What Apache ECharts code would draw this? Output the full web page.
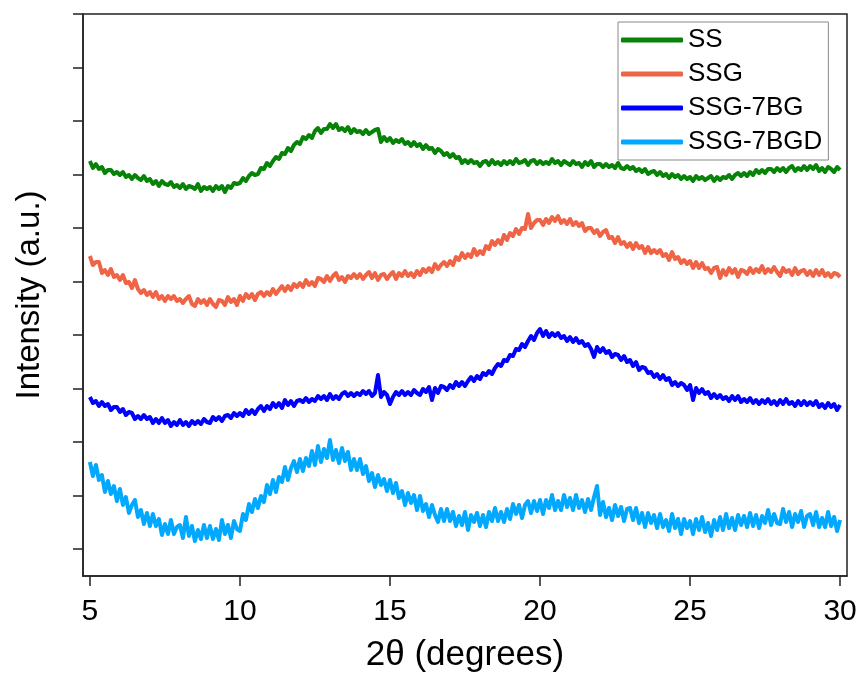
<!DOCTYPE html>
<html><head><meta charset="utf-8">
<script src="https://cdn.jsdelivr.net/npm/echarts@6/dist/echarts.min.js"></script>
<style>html,body{margin:0;padding:0;background:#fff}#c{width:860px;height:677px}</style>
</head><body><div id="c"></div>
<script>
// XRD patterns, 2θ from 5 to 30 deg, sampled every 0.1 deg (offset intensities, a.u.)
const seriesNames = ['SS', 'SSG', 'SSG-7BG', 'SSG-7BGD'];
const angleStart = 5.0;
const angleStep = 0.1;
const xTickValues = [5, 10, 15, 20, 25, 30];
const yTickValues = [27, 80.5, 134, 187.5, 241, 294.5, 348, 401.5, 455, 508.5, 562];

const ss = [
415,408,412,407,409,403,406,406,402,404,
401,404,399,401,397,401,398,396,400,395,
397,392,395,390,395,392,391,394,389,391,
388,392,387,390,389,387,392,385,389,387,
389,385,390,387,390,384,390,388,393,392,
393,398,395,400,403,401,402,408,407,413,
410,415,419,417,423,422,428,425,431,434,
432,439,437,441,438,445,448,443,447,447,
452,448,452,446,448,445,449,443,447,444,
445,442,446,442,444,446,447,434,439,435,
438,433,436,434,437,432,434,430,434,430,
432,427,431,427,428,423,427,425,421,423,
419,422,418,419,413,416,413,416,413,414,
410,414,415,411,416,412,414,411,415,412,
415,412,417,413,414,416,411,415,416,412,
415,412,414,412,417,413,415,411,415,413,
411,415,412,413,409,414,411,415,409,412,
412,409,412,409,411,408,413,408,407,410,
407,409,405,407,404,407,402,404,405,401,
404,400,402,398,402,399,401,397,400,397,
399,395,400,397,399,396,398,400,395,399,
396,399,398,401,397,401,403,400,403,400,
404,401,406,403,406,403,407,407,404,408,
405,408,404,408,410,405,408,406,410,406,
410,407,411,405,408,404,409,407,404,409,
406];

const ssg = [
320,311,314,314,303,306,301,307,299,301,
296,301,293,294,288,296,287,283,286,281,
284,279,284,277,280,275,280,277,280,275,
277,273,277,280,272,270,277,273,276,271,
277,272,269,276,275,271,279,274,277,271,
280,275,282,278,282,276,282,284,280,284,
281,287,282,286,290,285,290,286,292,289,
293,289,296,291,294,290,298,297,294,300,
295,300,303,296,299,294,300,298,302,298,
302,297,301,304,298,303,296,301,302,297,
301,304,297,303,300,305,300,303,299,305,
301,307,304,308,304,312,307,311,314,310,
315,311,319,316,323,318,322,319,327,321,
325,322,330,327,335,331,336,332,341,336,
343,340,347,342,348,347,362,348,353,356,
356,351,357,353,359,355,360,353,356,352,
357,351,354,350,353,345,348,348,343,346,
340,344,346,338,339,333,339,332,334,329,
333,327,333,328,330,323,329,323,326,323,
326,320,322,316,324,317,319,313,316,312,
315,308,314,308,313,307,308,303,308,309,
298,306,301,308,303,307,299,306,305,302,
308,303,307,304,310,303,307,304,309,304,
300,308,304,306,301,308,302,305,306,301,
305,300,306,301,306,300,303,299,303,302,
299];

const ssg7bg = [
179,173,175,170,174,170,172,166,169,169,
164,167,161,164,163,157,160,157,161,157,
159,153,157,153,158,153,156,150,154,151,
156,151,154,150,155,152,155,152,157,154,
153,159,156,159,155,160,161,158,163,160,
163,160,166,162,166,162,167,170,165,170,
167,173,169,173,168,176,171,175,170,175,
176,174,178,174,177,175,180,177,180,176,
182,177,180,177,182,184,180,183,180,183,
181,185,182,185,180,183,201,179,184,181,
172,179,184,181,185,181,184,181,186,183,
181,187,184,189,176,188,183,190,189,186,
191,188,194,190,194,190,195,199,195,200,
197,203,201,205,202,208,212,210,216,215,
221,220,227,226,232,229,235,240,236,243,
247,240,245,239,243,240,243,238,240,235,
239,234,238,233,235,230,232,227,219,229,
224,228,223,225,219,222,221,216,220,214,
216,210,214,206,209,208,203,204,199,202,
197,201,196,198,191,194,190,193,191,186,
191,176,188,183,187,182,184,178,182,178,
181,177,179,175,180,176,180,174,177,174,
178,173,176,172,176,173,177,172,175,171,
176,172,177,172,174,170,175,171,175,171,
174,171,175,169,172,168,173,169,172,166,
171];

const ssg7bgd = [
114,100,111,96,101,84,95,82,90,75,
87,71,79,63,71,76,59,66,52,63,
50,62,50,57,41,52,42,56,42,49,
51,38,59,40,50,35,46,37,51,38,
50,37,47,36,56,42,51,38,55,47,
45,62,56,72,64,77,68,80,74,91,
82,96,84,99,94,109,96,108,115,104,
117,105,118,110,125,111,130,114,127,118,
136,116,126,113,128,115,124,106,117,106,
117,102,110,95,103,89,101,91,97,85,
96,83,93,78,85,71,83,73,81,66,
80,65,72,59,71,61,54,67,55,67,
55,64,50,60,51,64,46,61,54,63,
50,61,49,64,55,68,55,64,54,67,
57,72,62,71,58,71,75,63,75,65,
76,62,76,68,81,66,75,66,81,69,
78,66,81,68,76,64,77,66,79,90,
61,74,59,68,56,71,60,69,55,67,
68,56,68,53,63,49,63,53,61,48,
62,49,56,45,62,48,57,42,57,48,
55,42,57,46,59,44,53,40,56,46,
59,46,62,48,58,46,61,51,60,49,
63,50,61,48,60,53,66,51,62,53,
52,67,54,64,49,62,54,65,49,60,
62,51,64,49,58,49,64,50,59,45,
56];

const seriesValues = [ss, ssg, ssg7bg, ssg7bgd];
const seriesColors = ['#078407', '#F06446', '#0000FF', '#00A8FF'];

function toPairs(arr) {
  return arr.map((v, i) => [+(angleStart + i * angleStep).toFixed(1), v]);
}

const FONT = 'Liberation Sans, Arial, sans-serif';
const chart = echarts.init(document.getElementById('c'), null, { renderer: 'canvas' });
chart.setOption({
  animation: false,
  backgroundColor: '#fff',
  grid: {
    left: 83, right: 13, top: 14, bottom: 101,
    containLabel: false, outerBoundsMode: 'none',
    show: true, borderColor: '#222', borderWidth: 1.5, backgroundColor: 'transparent'
  },
  legend: {
    orient: 'vertical',
    left: 618, top: 22,
    padding: [5, 6, 5, 3],
    itemGap: 8,
    itemWidth: 62, itemHeight: 5,
    icon: 'roundRect',
    borderColor: '#888', borderWidth: 1, backgroundColor: '#fff',
    textStyle: { fontFamily: FONT, fontSize: 26, color: '#000', lineHeight: 25 },
    data: seriesNames
  },
  xAxis: {
    type: 'value', min: 4.77, max: 30.23,
    name: '2θ (degrees)', nameLocation: 'middle', nameGap: 62,
    nameTextStyle: { fontFamily: FONT, fontSize: 35, color: '#000' },
    axisLine: { show: true, onZero: false, lineStyle: { color: '#222', width: 1.5 } },
    axisTick: { show: true, inside: false, length: 10, customValues: xTickValues, lineStyle: { color: '#222', width: 1.5 } },
    axisLabel: { show: true, margin: 21, fontFamily: FONT, fontSize: 30, color: '#000', customValues: xTickValues, formatter: v => String(v) },
    splitLine: { show: false }
  },
  yAxis: {
    type: 'value', min: 0, max: 562,
    name: 'Intensity (a.u.)', nameLocation: 'middle', nameGap: 37,
    nameTextStyle: { fontFamily: FONT, fontSize: 33, color: '#000' },
    axisLine: { show: true, onZero: false, lineStyle: { color: '#222', width: 1.5 } },
    axisTick: { show: true, inside: false, length: 10, customValues: yTickValues, lineStyle: { color: '#222', width: 1.5 } },
    axisLabel: { show: false },
    splitLine: { show: false }
  },
  series: seriesNames.map((n, k) => ({
    name: n, type: 'line', data: toPairs(seriesValues[k]),
    showSymbol: false, symbol: 'none',
    lineStyle: { color: seriesColors[k], width: 4, join: 'round' },
    itemStyle: { color: seriesColors[k] },
    emphasis: { disabled: true }, silent: true
  }))
});
</script></body></html>
